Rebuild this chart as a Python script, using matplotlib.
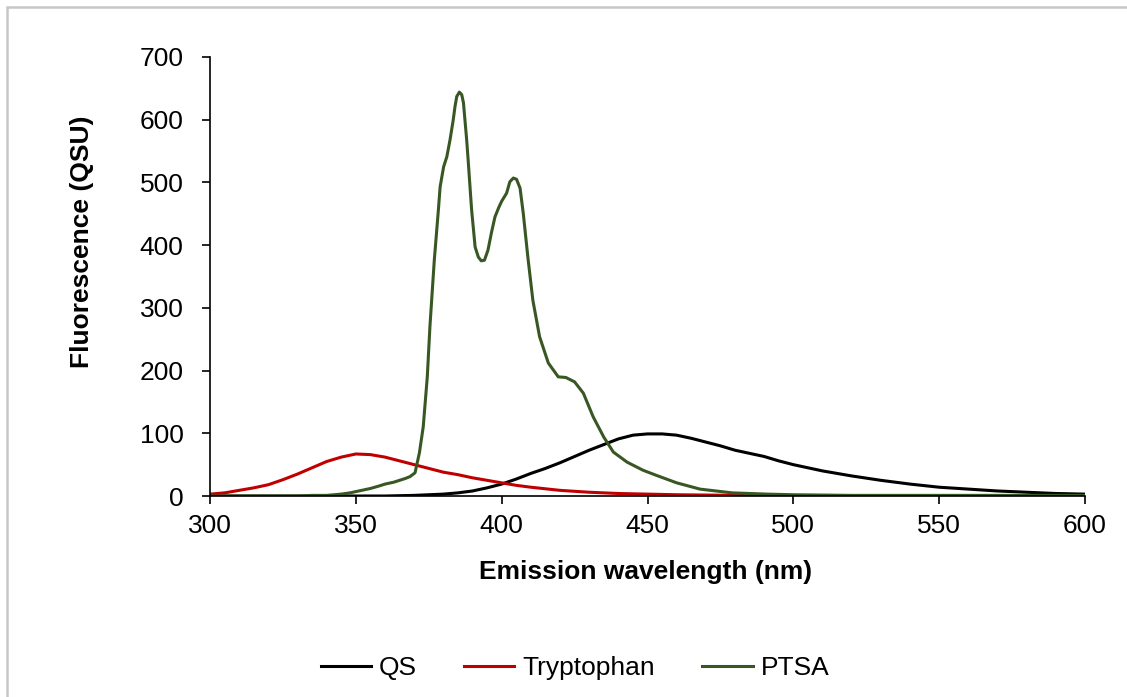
import matplotlib.pyplot as plt
from matplotlib.patches import Rectangle

plt.rcParams['font.family'] = ['Liberation Sans', 'DejaVu Sans']

# QS
wl_qs = [300, 350, 360, 370, 375, 380, 385, 390, 395, 400, 405, 410, 415, 420,
         425, 430, 435, 440, 445, 450, 455, 460, 465, 470, 475, 480, 485, 490,
         495, 500, 510, 520, 530, 540, 550, 560, 570, 580, 590, 600]
qs = [0, 0, 0, 1, 2, 3, 5, 8, 13, 19, 27, 36, 44, 53,
      63, 73, 82, 91, 97, 99, 99, 97, 92, 86, 80, 73, 68, 63,
      56, 50, 40, 32, 25, 19, 14, 11, 8, 6, 4, 3]

# Tryptophan
wl_trp = [300, 305, 310, 315, 320, 325, 330, 335, 340, 345, 350, 355, 360, 365,
          370, 375, 380, 385, 390, 395, 400, 405, 410, 420, 430, 440, 450, 460,
          480, 500, 550, 600]
trp = [3, 5, 9, 13, 18, 26, 35, 45, 55, 62, 67, 66, 62, 56,
       50, 44, 38, 34, 29, 25, 21, 17, 14, 9, 6, 4, 3, 2,
       1, 0.5, 0, 0]

# PTSA
wl_ptsa = [300, 310, 320, 330, 335, 340, 345, 348, 352, 355, 358, 360, 363, 365,
           367, 368.6, 370.3, 371.8, 373.1, 374.5, 375.4, 376.9, 378.3, 378.9,
           380.1, 381.2, 382.3, 383.4, 384.0, 384.6, 385.5, 386.3, 386.9, 387.4,
           388.0, 388.5, 389.7, 390.9, 392.0, 393.0, 394.1, 395.3, 396.5, 397.7,
           399.0, 400.0, 401.7, 402.8, 404.0, 405.1, 406.3, 407.4, 409, 410.7,
           413, 416, 419.4, 422, 425, 428, 431.4, 435, 438.3, 443, 448.5, 453,
           460, 468, 479, 491, 500, 520, 550, 600]
ptsa = [0, 0, 0, 0, 1, 1, 3, 5, 9, 12, 16, 19, 22, 25,
        28, 31, 37, 69, 110, 190, 270, 376, 456, 493,
        525, 541, 568, 600, 621, 637, 644, 640, 627, 600,
        568, 536, 456, 397, 381, 375, 376, 392, 420, 445,
        460, 470, 483, 501, 507, 505, 491, 451, 380, 312,
        254, 212, 190, 189, 182, 164, 126, 94, 70, 54, 41, 33,
        21, 11, 5, 3, 2, 1, 1, 1]

fig = plt.figure(figsize=(11.27, 6.97), dpi=100)
ax = fig.add_axes([210/1127, 1 - 496/697, 875/1127, 439/697])

ax.plot(wl_qs, qs, color='black', lw=2.2, label='QS')
ax.plot(wl_trp, trp, color='#C00000', lw=2.2, label='Tryptophan')
ax.plot(wl_ptsa, ptsa, color='#385723', lw=2.2, label='PTSA')

ax.set_xlim(300, 600)
ax.set_ylim(0, 700)
ax.set_xticks(range(300, 601, 50))
ax.set_yticks(range(0, 701, 100))
for s in ['top', 'right']:
    ax.spines[s].set_visible(False)
for s in ['left', 'bottom']:
    ax.spines[s].set_linewidth(1.2)
ax.tick_params(axis='x', direction='out', length=6, width=1.2, pad=7, labelsize=19)
ax.tick_params(axis='y', direction='out', length=6, width=1.2, pad=13, labelsize=19)

fig.text(646/1127, 1 - 572/697, 'Emission wavelength (nm)', ha='center', va='center',
         fontsize=19, fontweight='bold')
fig.text(82/1127, 1 - 242/697, 'Fluorescence (QSU)', ha='center', va='center',
         rotation=90, fontsize=19, fontweight='bold')

fig.legend(loc='center', bbox_to_anchor=(575/1127, 1 - 668/697), ncol=3,
           frameon=False, fontsize=19, handlelength=1.9, handletextpad=0.3,
           columnspacing=1.8)

# light grey chart border
fig.patches.append(Rectangle((7/1127, -0.1), 2, 1.1 - 7/697, transform=fig.transFigure,
                             fill=False, edgecolor='#C6C6C6', lw=1.8))

fig.savefig('out.png', dpi=100)
